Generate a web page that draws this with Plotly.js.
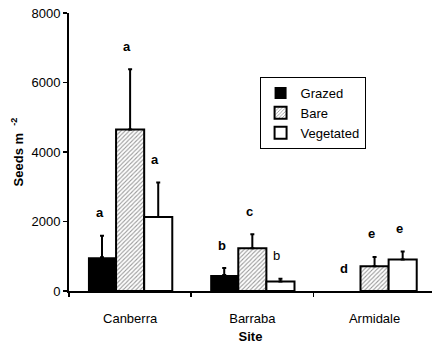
<!DOCTYPE html>
<html>
<head>
<meta charset="utf-8">
<script src="https://cdn.plot.ly/plotly-3.0.1.min.js"></script>
<style>html,body{margin:0;padding:0;background:#fff}</style>
</head>
<body>
<div id="chart" style="width:432px;height:344px"></div>
<script>
const sites = ["Canberra", "Barraba", "Armidale"];
const grazed = [970, 460, 0];
const grazedErr = [620, 200, NaN];   // no error bar drawn at Armidale
const bare = [4650, 1230, 710];
const bareErr = [1730, 400, 270];
const vegetated = [2130, 270, 905];
const vegetatedErr = [990, 80, 230];
const grazedLetters = ["a", "b", "d"];
const bareLetters = ["a", "c", "e"];
const vegetatedLetters = ["a", "b", "e"];
const vegetatedLetterBold = [true, false, true];

const FONT = "Arial, 'Liberation Sans', sans-serif";
function errBar(arr) {
  return {type: "data", symmetric: false, array: arr,
          arrayminus: arr.map(v => (Number.isFinite(v) ? 0 : NaN)),
          color: "black", thickness: 2, width: 2, visible: true};
}

const traces = [
  {type: "bar", name: "Grazed", x: sites, y: grazed, error_y: errBar(grazedErr),
   marker: {color: "black", line: {color: "black", width: 0}}},
  {type: "bar", name: "Bare", x: sites, y: bare, error_y: errBar(bareErr),
   marker: {color: "white", line: {color: "black", width: 2},
            pattern: {shape: "/", fgcolor: "#9a9a9a", bgcolor: "white", size: 3, solidity: 0.35}}},
  {type: "bar", name: "Vegetated", x: sites, y: vegetated, error_y: errBar(vegetatedErr),
   marker: {color: "white", line: {color: "black", width: 2}}}
];

const groupOffset = 0.225; // bar offset in category units
const annotations = [];
const series = [
  {vals: grazed, errs: grazedErr, letters: grazedLetters, off: -groupOffset, bold: [true, true, true]},
  {vals: bare, errs: bareErr, letters: bareLetters, off: 0, bold: [true, true, true]},
  {vals: vegetated, errs: vegetatedErr, letters: vegetatedLetters, off: groupOffset, bold: vegetatedLetterBold}
];
series.forEach(s => {
  s.letters.forEach((L, i) => {
    const e = Number.isFinite(s.errs[i]) ? s.errs[i] : 0;
    annotations.push({
      xref: "x", yref: "y", x: i + s.off, y: s.vals[i] + e,
      text: s.bold[i] ? "<b>" + L + "</b>" : L,
      showarrow: false, xanchor: "center", yanchor: "middle",
      xshift: -3, yshift: 23,
      font: {family: FONT, size: 13, color: "black"}
    });
  });
});

const layout = {
  width: 432, height: 344,
  margin: {l: 69, r: 0, t: 13, b: 53, pad: 0},
  paper_bgcolor: "white", plot_bgcolor: "white",
  font: {family: FONT, size: 13, color: "black"},
  barmode: "group", bargap: 0.31, bargroupgap: 0,
  showlegend: true,
  legend: {x: 0.525, y: 0.77, xanchor: "left", yanchor: "top",
           bordercolor: "black", borderwidth: 1, bgcolor: "white",
           font: {family: FONT, size: 13, color: "black"},
           itemwidth: 30, tracegroupgap: 0},
  xaxis: {type: "category", range: [-0.5, 2.47],
          showline: true, linecolor: "black", linewidth: 2,
          ticks: "outside", tickson: "boundaries", ticklen: 4, tickwidth: 1.5, tickcolor: "black",
          showgrid: false, zeroline: false, ticklabelstandoff: 14,
          tickfont: {family: FONT, size: 13},
          title: {text: "<b>Site</b>", font: {family: FONT, size: 13}, standoff: 9}},
  yaxis: {range: [0, 8000], dtick: 2000, tick0: 0,
          showline: true, linecolor: "black", linewidth: 2,
          ticks: "outside", ticklen: 4, tickwidth: 1.5, tickcolor: "black",
          showgrid: false, zeroline: false,
          tickfont: {family: FONT, size: 13},
          title: {text: "<b>Seeds m  <sup>-2</sup></b>", font: {family: FONT, size: 13}, standoff: 5}},
  annotations: annotations
};

Plotly.newPlot("chart", traces, layout, {displayModeBar: false, staticPlot: true});
</script>
</body>
</html>
